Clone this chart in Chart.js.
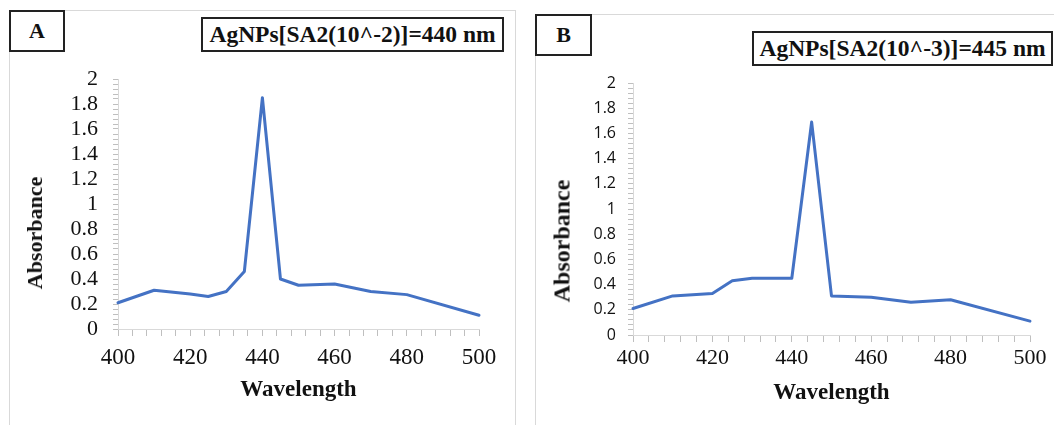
<!DOCTYPE html>
<html>
<head>
<meta charset="utf-8">
<script src="https://cdn.jsdelivr.net/npm/chart.js@4"></script>
<style>
  html, body { margin: 0; padding: 0; background: #fff; }
  body { width: 1054px; height: 425px; position: relative; overflow: hidden; font-family: "Liberation Serif", serif; }
  .frame { position: absolute; border: 1px solid #d9d9d9; border-bottom: none; box-sizing: border-box; }
  .frame canvas { position: absolute; left: 0; top: 0; }
  .tag, .title { position: absolute; border: 2px solid #222; box-sizing: border-box; background: #fff;
    font-weight: bold; color: #111; display: flex; align-items: center; justify-content: center; white-space: nowrap; }
  .tag { font-size: 22px; }
  .title { font-size: 23.5px; }
  .ytitle { position: absolute; font-weight: bold; color: #111; white-space: nowrap;
    transform: translate(-50%, -50%) rotate(-90deg); }
</style>
</head>
<body>
<div class="frame" style="left:9px; top:10px; width:507px; height:415px;">
  <canvas id="chartA" width="506" height="415"></canvas>
</div>
<div class="frame" style="left:535px; top:14px; width:530px; height:411px;">
  <canvas id="chartB" width="519" height="411"></canvas>
</div>

<div class="tag" style="left:9px; top:10px; width:56px; height:42px;">A</div>
<div class="title" style="left:201px; top:17px; width:303px; height:35px;">AgNPs[SA2(10^-2)]=440 nm</div>
<div class="ytitle" style="left:35px; top:233px; font-size:22px;">Absorbance</div>

<div class="tag" style="left:535px; top:14px; width:57px; height:42px;">B</div>
<div class="title" style="left:752px; top:31px; width:301px; height:35px;">AgNPs[SA2(10^-3)]=445 nm</div>
<div class="ytitle" style="left:562px; top:241px; font-size:24px;">Absorbance</div>

<script>
// panel A
const wavelengthA = [400, 410, 420, 425, 430, 435, 440, 445, 450, 460, 470, 480, 500];
const absorbanceA = [0.21, 0.31, 0.28, 0.26, 0.30, 0.46, 1.85, 0.40, 0.35, 0.36, 0.30, 0.275, 0.11];

// panel B
const wavelengthB = [400, 410, 420, 425, 430, 440, 445, 450, 460, 470, 480, 500];
const absorbanceB = [0.21, 0.31, 0.33, 0.43, 0.45, 0.45, 1.69, 0.31, 0.30, 0.26, 0.28, 0.11];

const xMin = 400, xMax = 500, xMajor = 20, xMinor = 4;
const yMin = 0, yMax = 2, yMajor = 0.2, yMinor = 0.04;
const xTitle = 'Wavelength';

const serif = "'Liberation Serif', 'Times New Roman', serif";

function makeChart(id, xs, ys, opt) {
  let points = xs.map((x, i) => ({ x: x, y: ys[i] }));
  return new Chart(document.getElementById(id), {
    type: 'line',
    data: {
      datasets: [{
        data: points,
        borderColor: '#4472c4',
        borderWidth: 3,
        borderJoinStyle: 'round',
        borderCapStyle: 'round',
        pointRadius: 0,
        tension: 0,
        clip: false
      }]
    },
    options: {
      responsive: false,
      animation: false,
      layout: { padding: { left: 0, top: 68, right: opt.padRight, bottom: 0 } },
      plugins: { legend: { display: false }, tooltip: { enabled: false } },
      scales: {
        x: {
          type: 'linear',
          min: xMin,
          max: xMax,
          afterFit: s => { s.height = opt.xHeight; },
          grid: { drawOnChartArea: false, tickLength: 7, color: '#bfbfbf' },
          border: { color: '#d9d9d9' },
          ticks: {
            stepSize: xMinor,
            autoSkip: false,
            maxRotation: 0,
            padding: opt.xPad,
            color: '#111',
            font: { family: serif, size: opt.xFont },
            callback: v => (Math.abs(v % xMajor) < 1e-6 ? String(v) : '')
          },
          title: {
            display: true,
            text: xTitle,
            color: '#111',
            padding: { top: 0, bottom: opt.xTitlePad },
            font: { family: serif, size: 23, weight: 'bold' }
          }
        },
        y: {
          min: yMin,
          max: yMax,
          afterFit: s => { s.width = opt.yWidth; },
          grid: { drawOnChartArea: false, tickLength: 5, color: '#bfbfbf' },
          border: { color: '#d9d9d9' },
          ticks: {
            stepSize: yMinor,
            autoSkip: false,
            padding: opt.yPad,
            color: '#111',
            font: { family: opt.yFamily, size: opt.yFont },
            callback: v => {
              let k = v / yMajor;
              return Math.abs(k - Math.round(k)) < 1e-6 ? String(Math.round(v * 10) / 10) : '';
            }
          }
        }
      }
    }
  });
}

makeChart('chartA', wavelengthA, absorbanceA, {
  padRight: 37, xHeight: 97, yWidth: 108,
  xPad: 8, xFont: 23, xTitlePad: 22,
  yPad: 15, yFont: 22, yFamily: serif
});

makeChart('chartB', wavelengthB, absorbanceB, {
  padRight: 25, xHeight: 91, yWidth: 97,
  xPad: 3, xFont: 22, xTitlePad: 19,
  yPad: 12, yFont: 16, yFamily: "'Open Sans', sans-serif"
});
</script>
</body>
</html>
